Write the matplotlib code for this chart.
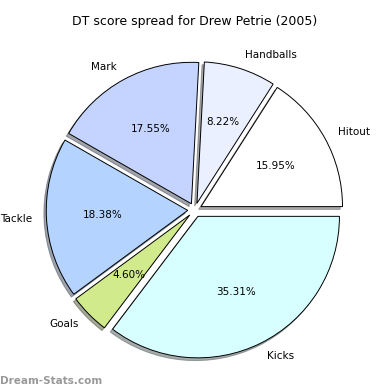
import matplotlib
matplotlib.use('Agg')
import matplotlib.pyplot as plt

labels = ['Hitout', 'Handballs', 'Mark', 'Tackle', 'Goals', 'Kicks']
values = [15.95, 8.22, 17.55, 18.38, 4.60, 35.31]
colors = ['#ffffff', '#eaf0ff', '#c4d4ff', '#b4d4ff', '#d0ea8c', '#d8ffff']
explode = [0.05] * len(values)

fig = plt.figure(figsize=(3.9, 3.9), dpi=100)
ax = fig.add_axes((0.046, 0.008, 0.907, 0.907))

wedges, texts, autotexts = ax.pie(
    values, labels=labels, colors=colors, explode=explode,
    autopct='%.2f%%', pctdistance=0.6, labeldistance=1.1,
    startangle=0, counterclock=True,
    shadow={'ox': -0.012, 'oy': -0.014, 'shade': 0.65},
    wedgeprops={'edgecolor': 'black', 'linewidth': 0.7},
    textprops={'fontsize': 7.5})
ax.set_aspect('equal')

fig.text(0.5, 0.935, 'DT score spread for Drew Petrie (2005)', ha='center', fontsize=9)
fig.text(0.0, 0.01, 'Dream-Stats.com', ha='left', va='bottom', fontsize=7.5,
         color='#999999', fontweight='bold')

fig.savefig('out.png', dpi=100)
